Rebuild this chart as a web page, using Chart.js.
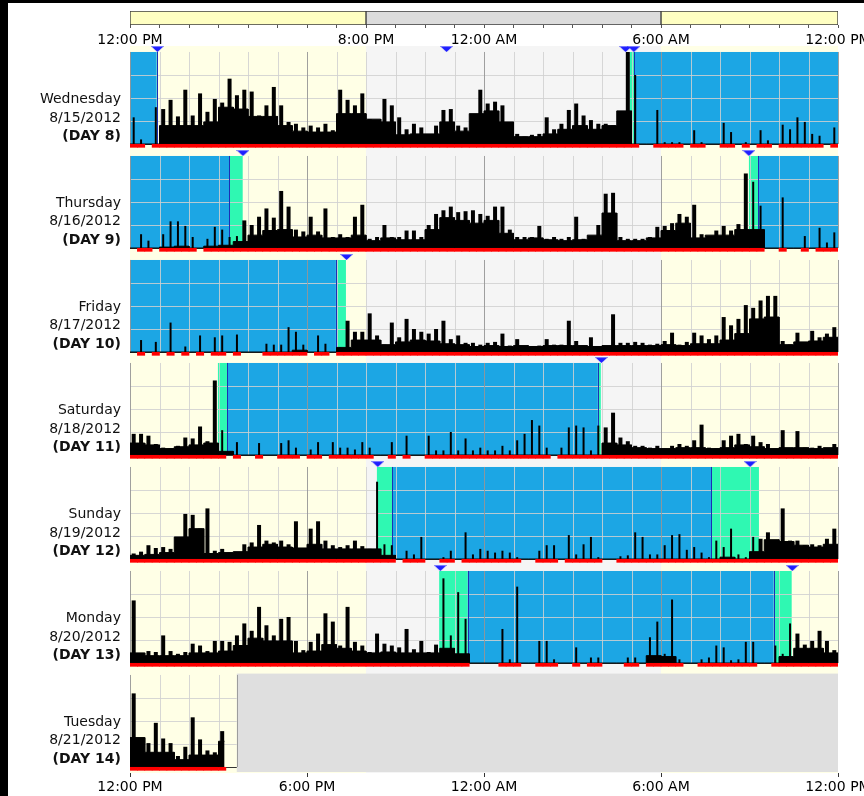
<!DOCTYPE html>
<html>
<head>
<meta charset="utf-8">
<script src="https://cdn.jsdelivr.net/npm/chart.js@4.4.1/dist/chart.umd.min.js"></script>
<style>
html, body { margin: 0; padding: 0; background: #fff; width: 864px; height: 796px; overflow: hidden; position: relative; }
canvas { position: absolute; left: 0; }
.edge { position: absolute; background: #000; }
.day { position: absolute; left: 0; width: 121px; text-align: right; font: 14px/18.5px "DejaVu Sans", Verdana, sans-serif; color: #111; }
</style>
</head>
<body>
<div class="edge" style="left:0;top:0;width:8px;height:796px"></div>
<div class="edge" style="left:0;top:0;width:864px;height:3px"></div>
<script>
// hours are counted from 12:00 PM (0) to 12:00 PM next day (24)
const TOP_TICK_HOURS = [0, 8, 12, 18, 24];
const TOP_TICK_TEXT = ['12:00 PM', '8:00 PM', '12:00 AM', '6:00 AM', '12:00 PM'];
const BOTTOM_TICK_HOURS = [0, 6, 12, 18, 24];
const BOTTOM_TICK_TEXT = ['12:00 PM', '6:00 PM', '12:00 AM', '6:00 AM', '12:00 PM'];

// light periods
const LIGHT_FROM = [0, 8, 18];
const LIGHT_TO = [8, 18, 24];
const LIGHT_KIND = ['day', 'night', 'day'];

const DAY_NAMES = ['Wednesday', 'Thursday', 'Friday', 'Saturday', 'Sunday', 'Monday', 'Tuesday'];
const DAY_DATES = ['8/15/2012', '8/16/2012', '8/17/2012', '8/18/2012', '8/19/2012', '8/20/2012', '8/21/2012'];
const DAY_NUMBERS = [8, 9, 10, 11, 12, 13, 14];
const PLOT_END = [24, 24, 24, 24, 24, 24, 3.62];
const DATA_END = [24, 24, 24, 24, 24, 24, 3.2];

// activity peaks, 15 minute bins (% of scale)
const PEAK_WED = [
  29, 5, 0, 40, 38, 48, 30, 59,
  31, 55, 35, 49, 45, 71, 53, 59,
  57, 31, 42, 62, 42, 24, 22, 18,
  20, 18, 22, 15, 59, 48, 42, 55,
  27, 25, 49, 42, 29, 16, 22, 18,
  10, 20, 37, 38, 20, 18, 26, 59,
  44, 46, 42, 20, 11, 8, 10, 11,
  29, 16, 22, 37, 44, 31, 26, 22,
  22, 20, 26, 100, 75, 0, 0, 37,
  2, 2, 2, 0, 15, 2, 0, 0,
  23, 13, 0, 2, 0, 15, 4, 0,
  21, 16, 29, 24, 11, 9, 0, 18
];
const PEAK_THU = [
  0, 15, 8, 0, 15, 29, 29, 24,
  12, 0, 10, 23, 20, 12, 13, 30,
  25, 34, 43, 33, 62, 45, 20, 18,
  34, 18, 43, 12, 15, 12, 34, 47,
  10, 12, 25, 12, 12, 19, 19, 12,
  25, 37, 41, 45, 39, 40, 41, 37,
  35, 45, 45, 20, 12, 12, 12, 24,
  10, 12, 10, 12, 34, 10, 12, 25,
  59, 60, 12, 10, 10, 10, 12, 23,
  24, 27, 37, 34, 47, 15, 12, 19,
  24, 19, 26, 81, 72, 46, 0, 0,
  55, 0, 0, 13, 0, 22, 6, 17
];
const PEAK_FRI = [
  0, 13, 0, 11, 0, 32, 0, 6,
  0, 18, 0, 16, 18, 0, 19, 0,
  0, 0, 9, 8, 8, 27, 22, 8,
  0, 18, 9, 0, 5, 34, 22, 22,
  42, 18, 8, 32, 16, 36, 25, 22,
  20, 25, 34, 14, 18, 10, 10, 8,
  10, 11, 20, 7, 14, 6, 6, 7,
  14, 8, 8, 34, 12, 7, 16, 6,
  6, 41, 10, 10, 11, 10, 8, 9,
  12, 21, 8, 11, 21, 18, 14, 18,
  38, 29, 36, 51, 48, 56, 61, 61,
  12, 8, 21, 10, 23, 16, 20, 27
];
const PEAK_SAT = [
  23, 23, 21, 12, 8, 7, 10, 19,
  18, 31, 15, 81, 27, 0, 14, 0,
  0, 13, 0, 0, 13, 16, 8, 0,
  6, 14, 0, 14, 8, 8, 6, 14,
  8, 0, 0, 14, 0, 21, 0, 0,
  21, 5, 5, 25, 5, 18, 5, 8,
  5, 5, 10, 5, 16, 23, 38, 32,
  8, 0, 8, 30, 32, 30, 5, 32,
  30, 46, 19, 15, 10, 10, 8, 10,
  7, 10, 12, 10, 16, 33, 8, 7,
  16, 21, 23, 12, 21, 14, 12, 7,
  27, 5, 26, 8, 8, 10, 7, 12
];
const PEAK_SUN = [
  6, 8, 15, 12, 13, 11, 11, 49,
  48, 33, 55, 9, 11, 7, 7, 16,
  18, 37, 20, 18, 20, 16, 41, 10,
  33, 41, 20, 15, 13, 15, 20, 14,
  11, 84, 16, 15, 0, 9, 5, 24,
  0, 0, 2, 9, 0, 29, 5, 11,
  9, 7, 9, 7, 2, 0, 0, 9,
  15, 15, 0, 26, 5, 16, 24, 2,
  0, 0, 3, 4, 29, 24, 5, 5,
  15, 26, 27, 10, 13, 7, 2, 20,
  13, 33, 5, 2, 24, 22, 29, 16,
  55, 20, 20, 15, 16, 15, 22, 33
];
const PEAK_MON = [
  68, 8, 13, 12, 30, 13, 10, 12,
  21, 19, 13, 24, 24, 23, 30, 43,
  35, 61, 41, 30, 48, 50, 24, 14,
  23, 32, 54, 45, 19, 61, 23, 19,
  12, 32, 21, 19, 17, 37, 15, 24,
  12, 20, 92, 30, 77, 48, 0, 0,
  0, 0, 37, 4, 83, 0, 0, 24,
  24, 4, 0, 0, 17, 0, 6, 6,
  0, 0, 0, 6, 6, 0, 28, 45,
  10, 69, 4, 0, 0, 4, 6, 19,
  17, 3, 4, 23, 23, 0, 0, 19,
  10, 43, 32, 20, 24, 35, 24, 14
];
const PEAK_TUE = [80, 19, 26, 48, 31, 26, 12, 22, 54, 30, 18, 16, 39];

// dense activity level, 30 minute bins (% of scale)
const BASE_WED = [0, 0, 20, 20, 20, 24, 40, 38, 30, 30, 20, 14, 13, 13, 33, 33, 27, 24, 10, 11, 11, 24, 14, 33,
  36, 24, 8, 8, 11, 16, 20, 16, 20, 36, 0, 0, 0, 0, 0, 0, 0, 0, 0, 0, 0, 0, 0, 0];
const BASE_THU = [0, 0, 1, 2, 0, 2, 3, 7, 14, 19, 20, 12, 14, 11, 11, 14, 8, 11, 9, 9, 20, 33, 30, 27,
  30, 16, 9, 11, 9, 8, 9, 14, 38, 8, 8, 11, 19, 27, 11, 14, 14, 20, 20, 0, 0, 0, 0, 0];
const BASE_FRI = [0, 0, 0, 0, 0, 0, 0, 0, 0, 0, 0, 2, 0, 0, 5, 13, 13, 8, 11, 13, 12, 9, 8, 6,
  7, 6, 7, 6, 7, 7, 7, 6, 7, 7, 7, 7, 8, 7, 9, 9, 13, 20, 36, 38, 8, 11, 12, 16];
const BASE_SAT = [13, 11, 7, 9, 11, 13, 4, 0, 0, 0, 0, 0, 0, 0, 0, 0, 0, 0, 0, 0, 0, 0, 0, 0,
  0, 0, 0, 0, 0, 0, 0, 0, 13, 11, 8, 7, 7, 8, 8, 7, 8, 11, 9, 7, 8, 8, 7, 8];
const BASE_SUN = [4, 5, 7, 24, 33, 6, 7, 8, 13, 16, 13, 12, 16, 11, 11, 11, 11, 4, 0, 0, 0, 0, 0, 0,
  0, 0, 0, 0, 0, 0, 0, 0, 0, 0, 0, 0, 0, 0, 0, 0, 2, 0, 8, 21, 19, 15, 13, 16];
const BASE_MON = [11, 8, 8, 8, 11, 11, 13, 19, 27, 24, 24, 11, 13, 20, 16, 13, 11, 12, 11, 11, 11, 16, 10, 0,
  0, 0, 0, 0, 0, 0, 0, 0, 0, 0, 0, 8, 7, 0, 0, 0, 0, 0, 0, 0, 7, 16, 16, 11];
const BASE_TUE = [32, 16, 16, 8, 13, 13, 28];

// sleep (blue) and onset / wake latency (green) periods, hours
const SLEEP_WED = [[0, 0.9], [17.09, 24]];
const ONSET_WED = [[0.9, 0.94], [16.94, 17.09]];
const SLEEP_THU = [[0, 3.36], [21.29, 24]];
const ONSET_THU = [[3.36, 3.82], [20.98, 21.29]];
const SLEEP_FRI = [[0, 6.98]];
const ONSET_FRI = [[6.98, 7.32]];
const SLEEP_SAT = [[3.29, 15.86]];
const ONSET_SAT = [[2.98, 3.29], [15.86, 15.96]];
const SLEEP_SUN = [[8.89, 19.71]];
const ONSET_SUN = [[8.37, 8.89], [19.71, 21.32]];
const SLEEP_MON = [[11.45, 21.82]];
const ONSET_MON = [[10.48, 11.45], [21.82, 22.43]];
const SLEEP_TUE = [];
const ONSET_TUE = [];

// event markers (blue triangles), hours
const MARKS_WED = [0.93, 10.73, 16.8, 17.08];
const MARKS_THU = [3.83, 20.98];
const MARKS_FRI = [7.34];
const MARKS_SAT = [15.98];
const MARKS_SUN = [8.4, 21.02];
const MARKS_MON = [10.52, 22.45];
const MARKS_TUE = [];

const ROWS = [
  { peak: PEAK_WED, base: BASE_WED, sleep: SLEEP_WED, onset: ONSET_WED, marks: MARKS_WED },
  { peak: PEAK_THU, base: BASE_THU, sleep: SLEEP_THU, onset: ONSET_THU, marks: MARKS_THU },
  { peak: PEAK_FRI, base: BASE_FRI, sleep: SLEEP_FRI, onset: ONSET_FRI, marks: MARKS_FRI },
  { peak: PEAK_SAT, base: BASE_SAT, sleep: SLEEP_SAT, onset: ONSET_SAT, marks: MARKS_SAT },
  { peak: PEAK_SUN, base: BASE_SUN, sleep: SLEEP_SUN, onset: ONSET_SUN, marks: MARKS_SUN },
  { peak: PEAK_MON, base: BASE_MON, sleep: SLEEP_MON, onset: ONSET_MON, marks: MARKS_MON },
  { peak: PEAK_TUE, base: BASE_TUE, sleep: SLEEP_TUE, onset: ONSET_TUE, marks: MARKS_TUE }
];

const PEAK_STEP = 0.25;
const BASE_STEP = 0.5;

const COLORS = {
  day: '#ffffe6', night: '#f5f5f5', sleep: '#1ca6e4', onset: '#2ff8b2',
  gridMinor: 'rgba(208,208,208,0.85)', gridMajor: 'rgba(150,150,150,0.9)',
  edge: '#1b2fb5', base: '#333', off: '#dfdfdf',
  headDay: '#ffffc2', headNight: '#dcdcdc'
};

Chart.defaults.font.family = '"DejaVu Sans", Verdana, sans-serif';
Chart.defaults.font.size = 14;
Chart.defaults.color = '#000';

function addCanvas(top, height) {
  const c = document.createElement('canvas');
  c.width = 864;
  c.height = height;
  c.style.top = top + 'px';
  document.body.appendChild(c);
  return c;
}

function markerImage() {
  const c = document.createElement('canvas');
  c.width = 13;
  c.height = 6;
  const g = c.getContext('2d');
  g.fillStyle = '#1e1eff';
  g.beginPath();
  g.moveTo(0, 0);
  g.lineTo(13, 0);
  g.lineTo(6.5, 6);
  g.closePath();
  g.fill();
  g.fillStyle = '#7a7aff';
  g.fillRect(1, 0, 11, 1);
  return c;
}
const MARKER = markerImage();

function peakBins(peak) {
  return peak.map((v, k) => ({ x: (k + 0.5) * PEAK_STEP, y: v })).filter(p => p.y > 0);
}

function asleep(row, h) {
  return row.sleep.concat(row.onset).some(([s, e]) => h >= s && h < e);
}

function baseSkyline(base, end) {
  const pts = [];
  base.forEach((v, k) => {
    const from = k * BASE_STEP;
    const to = Math.min((k + 1) * BASE_STEP, end);
    pts.push({ x: from, y: v }, { x: to, y: v });
  });
  return pts;
}

// light periods, sleep bands, grid and baseline behind the activity
function backdrop(row, plotEnd) {
  return {
    id: 'backdrop',
    beforeDatasetsDraw(chart) {
      const { ctx, chartArea: area, scales: { x, y } } = chart;
      const px = h => x.getPixelForValue(h);
      const yTop = y.getPixelForValue(100);
      const y0 = y.getPixelForValue(0);
      const line = (x1, y1, x2, y2) => { ctx.beginPath(); ctx.moveTo(x1, y1); ctx.lineTo(x2, y2); ctx.stroke(); };
      ctx.save();
      LIGHT_FROM.forEach((from, i) => {
        ctx.fillStyle = LIGHT_KIND[i] === 'day' ? COLORS.day : COLORS.night;
        ctx.fillRect(px(from), area.top, px(LIGHT_TO[i]) - px(from), area.bottom - area.top);
      });
      ctx.fillStyle = COLORS.onset;
      row.onset.forEach(([s, e]) => ctx.fillRect(px(s), yTop, px(e) - px(s), y0 - yTop));
      ctx.fillStyle = COLORS.sleep;
      row.sleep.forEach(([s, e]) => ctx.fillRect(px(s), yTop, px(e) - px(s), y0 - yTop));

      ctx.lineWidth = 1;
      ctx.strokeStyle = COLORS.gridMinor;
      [25, 50, 75].forEach(v => {
        const gy = Math.round(y.getPixelForValue(v)) + 0.5;
        line(px(0), gy, px(plotEnd), gy);
      });
      for (let h = 0; h <= plotEnd; h++) {
        const gx = Math.round(px(h)) + 0.5;
        ctx.strokeStyle = h % 6 === 0 ? COLORS.gridMajor : COLORS.gridMinor;
        line(gx, yTop, gx, y0);
      }
      if (plotEnd < 24) {
        ctx.fillStyle = COLORS.off;
        const gTop = y.getPixelForValue(101.5);
        ctx.fillRect(px(plotEnd), gTop, px(24) - px(plotEnd), area.bottom - 1 - gTop);
        ctx.strokeStyle = COLORS.gridMajor;
        const ex = Math.round(px(plotEnd)) + 0.5;
        line(ex, yTop, ex, y0);
      }
      ctx.strokeStyle = COLORS.edge;
      row.sleep.forEach(([s, e]) => [s, e].forEach(h => {
        if (h > 0 && h < 24) {
          const ex = Math.round(px(h)) + 0.5;
          line(ex, yTop, ex, y0);
        }
      }));
      ctx.strokeStyle = COLORS.base;
      const by = Math.round(y0) + 0.5;
      line(px(0), by, px(plotEnd), by);
      ctx.restore();
    }
  };
}

const ROW_TOP = 52;
const ROW_PITCH = 103.8;

ROWS.forEach((row, i) => {
  const top = ROW_TOP + i * ROW_PITCH;
  const canvas = addCanvas(Math.round(top - 6), 104);
  const bins = peakBins(row.peak);

  new Chart(canvas, {
    type: 'bar',
    data: {
      datasets: [
        {
          type: 'scatter',
          data: row.marks.map(h => ({ x: h, y: 103.2 })),
          pointStyle: MARKER,
          pointRadius: 4,
          order: 0
        },
        {
          type: 'bar',
          data: bins.map(p => ({ x: p.x, y: [-3.6, -0.3] })),
          backgroundColor: '#ff0000',
          grouped: false,
          barPercentage: 1,
          categoryPercentage: 1,
          order: 1
        },
        {
          type: 'bar',
          data: bins.filter(p => !asleep(row, p.x)),
          backgroundColor: '#000',
          grouped: false,
          maxBarThickness: 4,
          order: 2
        },
        {
          type: 'bar',
          data: bins.filter(p => asleep(row, p.x)),
          backgroundColor: '#000',
          grouped: false,
          maxBarThickness: 2,
          order: 2
        },
        {
          type: 'line',
          data: baseSkyline(row.base, DATA_END[i]),
          borderColor: '#000',
          borderWidth: 1,
          backgroundColor: '#000',
          fill: 'origin',
          pointRadius: 0,
          tension: 0,
          order: 3
        }
      ]
    },
    options: {
      responsive: false,
      animation: false,
      events: [],
      layout: { autoPadding: false, padding: { left: 130, right: 26, top: 0, bottom: 0 } },
      plugins: { legend: { display: false }, tooltip: { enabled: false } },
      scales: {
        x: { type: 'linear', min: 0, max: 24, offset: false, display: false },
        y: { type: 'linear', min: -6.5, max: 106.5, display: false }
      }
    },
    plugins: [backdrop(row, PLOT_END[i])]
  });

  const lbl = document.createElement('div');
  lbl.className = 'day';
  lbl.style.top = (top + 37) + 'px';
  lbl.innerHTML = DAY_NAMES[i] + '<br>' + DAY_DATES[i] + '<br><b>(DAY ' + DAY_NUMBERS[i] + ')</b>';
  document.body.appendChild(lbl);
});

function tickText(hours, text) {
  return v => {
    const k = hours.indexOf(v);
    return k < 0 ? '' : text[k];
  };
}

// header: light schedule bar
new Chart(addCanvas(11, 14), {
  type: 'bar',
  data: {
    labels: [''],
    datasets: LIGHT_FROM.map((from, i) => ({
      data: [[from, LIGHT_TO[i]]],
      backgroundColor: LIGHT_KIND[i] === 'day' ? COLORS.headDay : COLORS.headNight,
      borderColor: '#3c3c3c',
      borderWidth: 1,
      borderSkipped: false,
      grouped: false,
      barPercentage: 1,
      categoryPercentage: 1
    }))
  },
  options: {
    indexAxis: 'y',
    responsive: false,
    animation: false,
    events: [],
    layout: { autoPadding: false, padding: { left: 130, right: 26, top: 0, bottom: 0 } },
    plugins: { legend: { display: false }, tooltip: { enabled: false } },
    scales: {
      x: { type: 'linear', min: 0, max: 24, offset: false, display: false },
      y: { display: false }
    }
  }
});

// time axes: transparent plot area above, axis at its bottom edge
function timeAxis(axisTop, step, tickLen, pad, hours, text, tickColor) {
  const axisH = tickLen + 16.8 + 2 * pad;
  const areaH = Math.ceil(axisH) + 6;
  new Chart(addCanvas(axisTop - areaH, areaH + axisH), {
    type: 'scatter',
    data: { datasets: [] },
    options: {
      responsive: false,
      animation: false,
      events: [],
      layout: { autoPadding: false, padding: { left: 130, right: 26, top: 0, bottom: 0 } },
      plugins: { legend: { display: false }, tooltip: { enabled: false } },
      scales: {
        x: {
          type: 'linear', min: 0, max: 24, offset: false,
          afterFit(s) { s.paddingLeft = 0; s.paddingRight = 0; },
          grid: { drawOnChartArea: false, tickLength: tickLen, color: tickColor },
          border: { display: false },
          ticks: { stepSize: step, maxTicksLimit: 100, autoSkip: false, maxRotation: 0, minRotation: 0, padding: pad,
            callback: tickText(hours, text) }
        },
        y: { display: false, min: 0, max: 1 }
      }
    }
  });
}

timeAxis(25, 1, 3, 3.6, TOP_TICK_HOURS, TOP_TICK_TEXT, '#555');
timeAxis(773, 6, 4, 1.6, BOTTOM_TICK_HOURS, BOTTOM_TICK_TEXT, '#333');
</script>
</body>
</html>
